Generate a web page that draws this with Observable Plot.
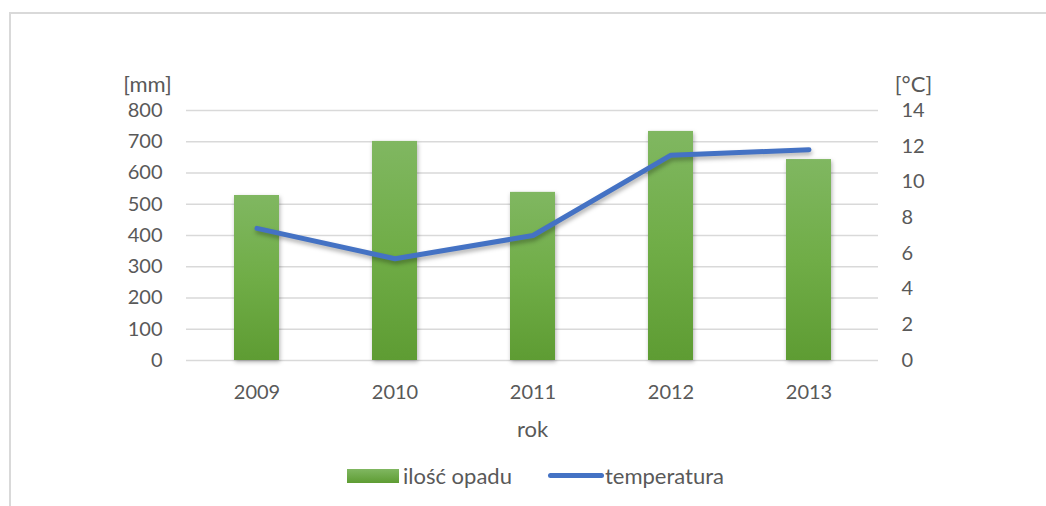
<!DOCTYPE html>
<html>
<head>
<meta charset="utf-8">
<script src="https://cdn.jsdelivr.net/npm/d3@7"></script>
<script src="https://cdn.jsdelivr.net/npm/@observablehq/plot@0.6"></script>
<style>
  html, body { margin: 0; padding: 0; background: #fff; }
  body { width: 1046px; height: 506px; position: relative; overflow: hidden; font-family: Lato, "Open Sans", sans-serif; }
  #frame { position: absolute; left: 9px; top: 12px; width: 1100px; height: 600px; border-left: 2px solid #d9d9d9; border-top: 2px solid #d9d9d9; }
  #chart { position: absolute; left: 0; top: 0; }
  #legend { position: absolute; top: 462px; left: 347px; display: flex; align-items: center; font: 22px Lato, sans-serif; color: #595959; white-space: nowrap; }
  #legend .sw { display: inline-block; width: 52px; height: 14px; background: linear-gradient(#80b761, #5e9c33); margin-right: 4px; }
  #legend .ln { display: inline-block; width: 56px; height: 5px; border-radius: 3px; background: #4472c4; margin-left: 36px; margin-right: 1px; }
</style>
</head>
<body>
<div id="frame"></div>
<div id="chart"></div>
<div id="legend"></div>
<script>
const years = ["2009", "2010", "2011", "2012", "2013"];
const precipitation = [528, 701, 538, 733, 643];
const temperature = [7.4, 5.7, 7.0, 11.5, 11.8];
const mmTicks = [0, 100, 200, 300, 400, 500, 600, 700, 800];
const tempTicks = [0, 2, 4, 6, 8, 10, 12, 14];
const seriesNames = ["ilość opadu", "temperatura"];
const axisTitles = ["[mm]", "[°C]"];
const xTitle = "rok";

const mmMax = 800, tempMax = 14;
const data = years.map((year, i) => ({year, mm: precipitation[i], temp: temperature[i]}));
const toMm = t => t * mmMax / tempMax;

const svg = Plot.plot({
  width: 1046,
  height: 450,
  marginLeft: 186,
  marginRight: 168,
  marginTop: 110,
  marginBottom: 90,
  style: {color: "#595959", fontFamily: "Lato, 'Open Sans', sans-serif", fontSize: "20px", background: "transparent"},
  x: {type: "band", domain: years, paddingInner: 0.675, paddingOuter: 0.3375},
  y: {domain: [0, mmMax]},
  marks: [
    Plot.ruleY(mmTicks, {stroke: "#d9d9d9", strokeWidth: 1.5}),
    Plot.barY(data, {x: "year", y: "mm", fill: "url(#barGrad)"}),
    Plot.line(data, {x: "year", y: d => toMm(d.temp), stroke: "#4472c4", strokeWidth: 5, strokeLinecap: "round", strokeLinejoin: "round"}),
    Plot.axisY(mmTicks, {anchor: "left", tickSize: 0, tickPadding: 24, fontSize: 20, label: null}),
    Plot.axisY(tempTicks.map(toMm), {anchor: "right", tickSize: 0, tickPadding: 23, fontSize: 20, tickFormat: d => String(Math.round(d * tempMax / mmMax)), label: null}),
    Plot.axisX({tickSize: 0, tickPadding: 24, fontSize: 20, label: null}),
    Plot.text([xTitle], {frameAnchor: "bottom", dy: 76, text: d => d, fontSize: 22, textAnchor: "middle"}),
    Plot.text([axisTitles[0]], {frameAnchor: "top-left", dx: -39, dy: -34, text: d => d, fontSize: 22, textAnchor: "middle"}),
    Plot.text([axisTitles[1]], {frameAnchor: "top-right", dx: 35, dy: -34, text: d => d, fontSize: 22, textAnchor: "middle"})
  ]
});

const defs = d3.select(svg).insert("defs", ":first-child");
const grad = defs.append("linearGradient").attr("id", "barGrad").attr("x1", 0).attr("y1", 0).attr("x2", 0).attr("y2", 1);
grad.append("stop").attr("offset", "0%").attr("stop-color", "#80b761");
grad.append("stop").attr("offset", "50%").attr("stop-color", "#70ad47");
grad.append("stop").attr("offset", "100%").attr("stop-color", "#5e9c33");
d3.select(svg).selectAll("g[aria-label='bar']").style("filter", "drop-shadow(1px 2px 2px rgba(0,0,0,0.3))");
d3.select(svg).selectAll("g[aria-label='line']").style("filter", "drop-shadow(1px 3px 2px rgba(0,0,0,0.3))");

document.getElementById("chart").appendChild(svg);

const legend = document.getElementById("legend");
legend.innerHTML = `<span class="sw"></span><span>${seriesNames[0]}</span><span class="ln"></span><span>${seriesNames[1]}</span>`;
</script>
</body>
</html>
